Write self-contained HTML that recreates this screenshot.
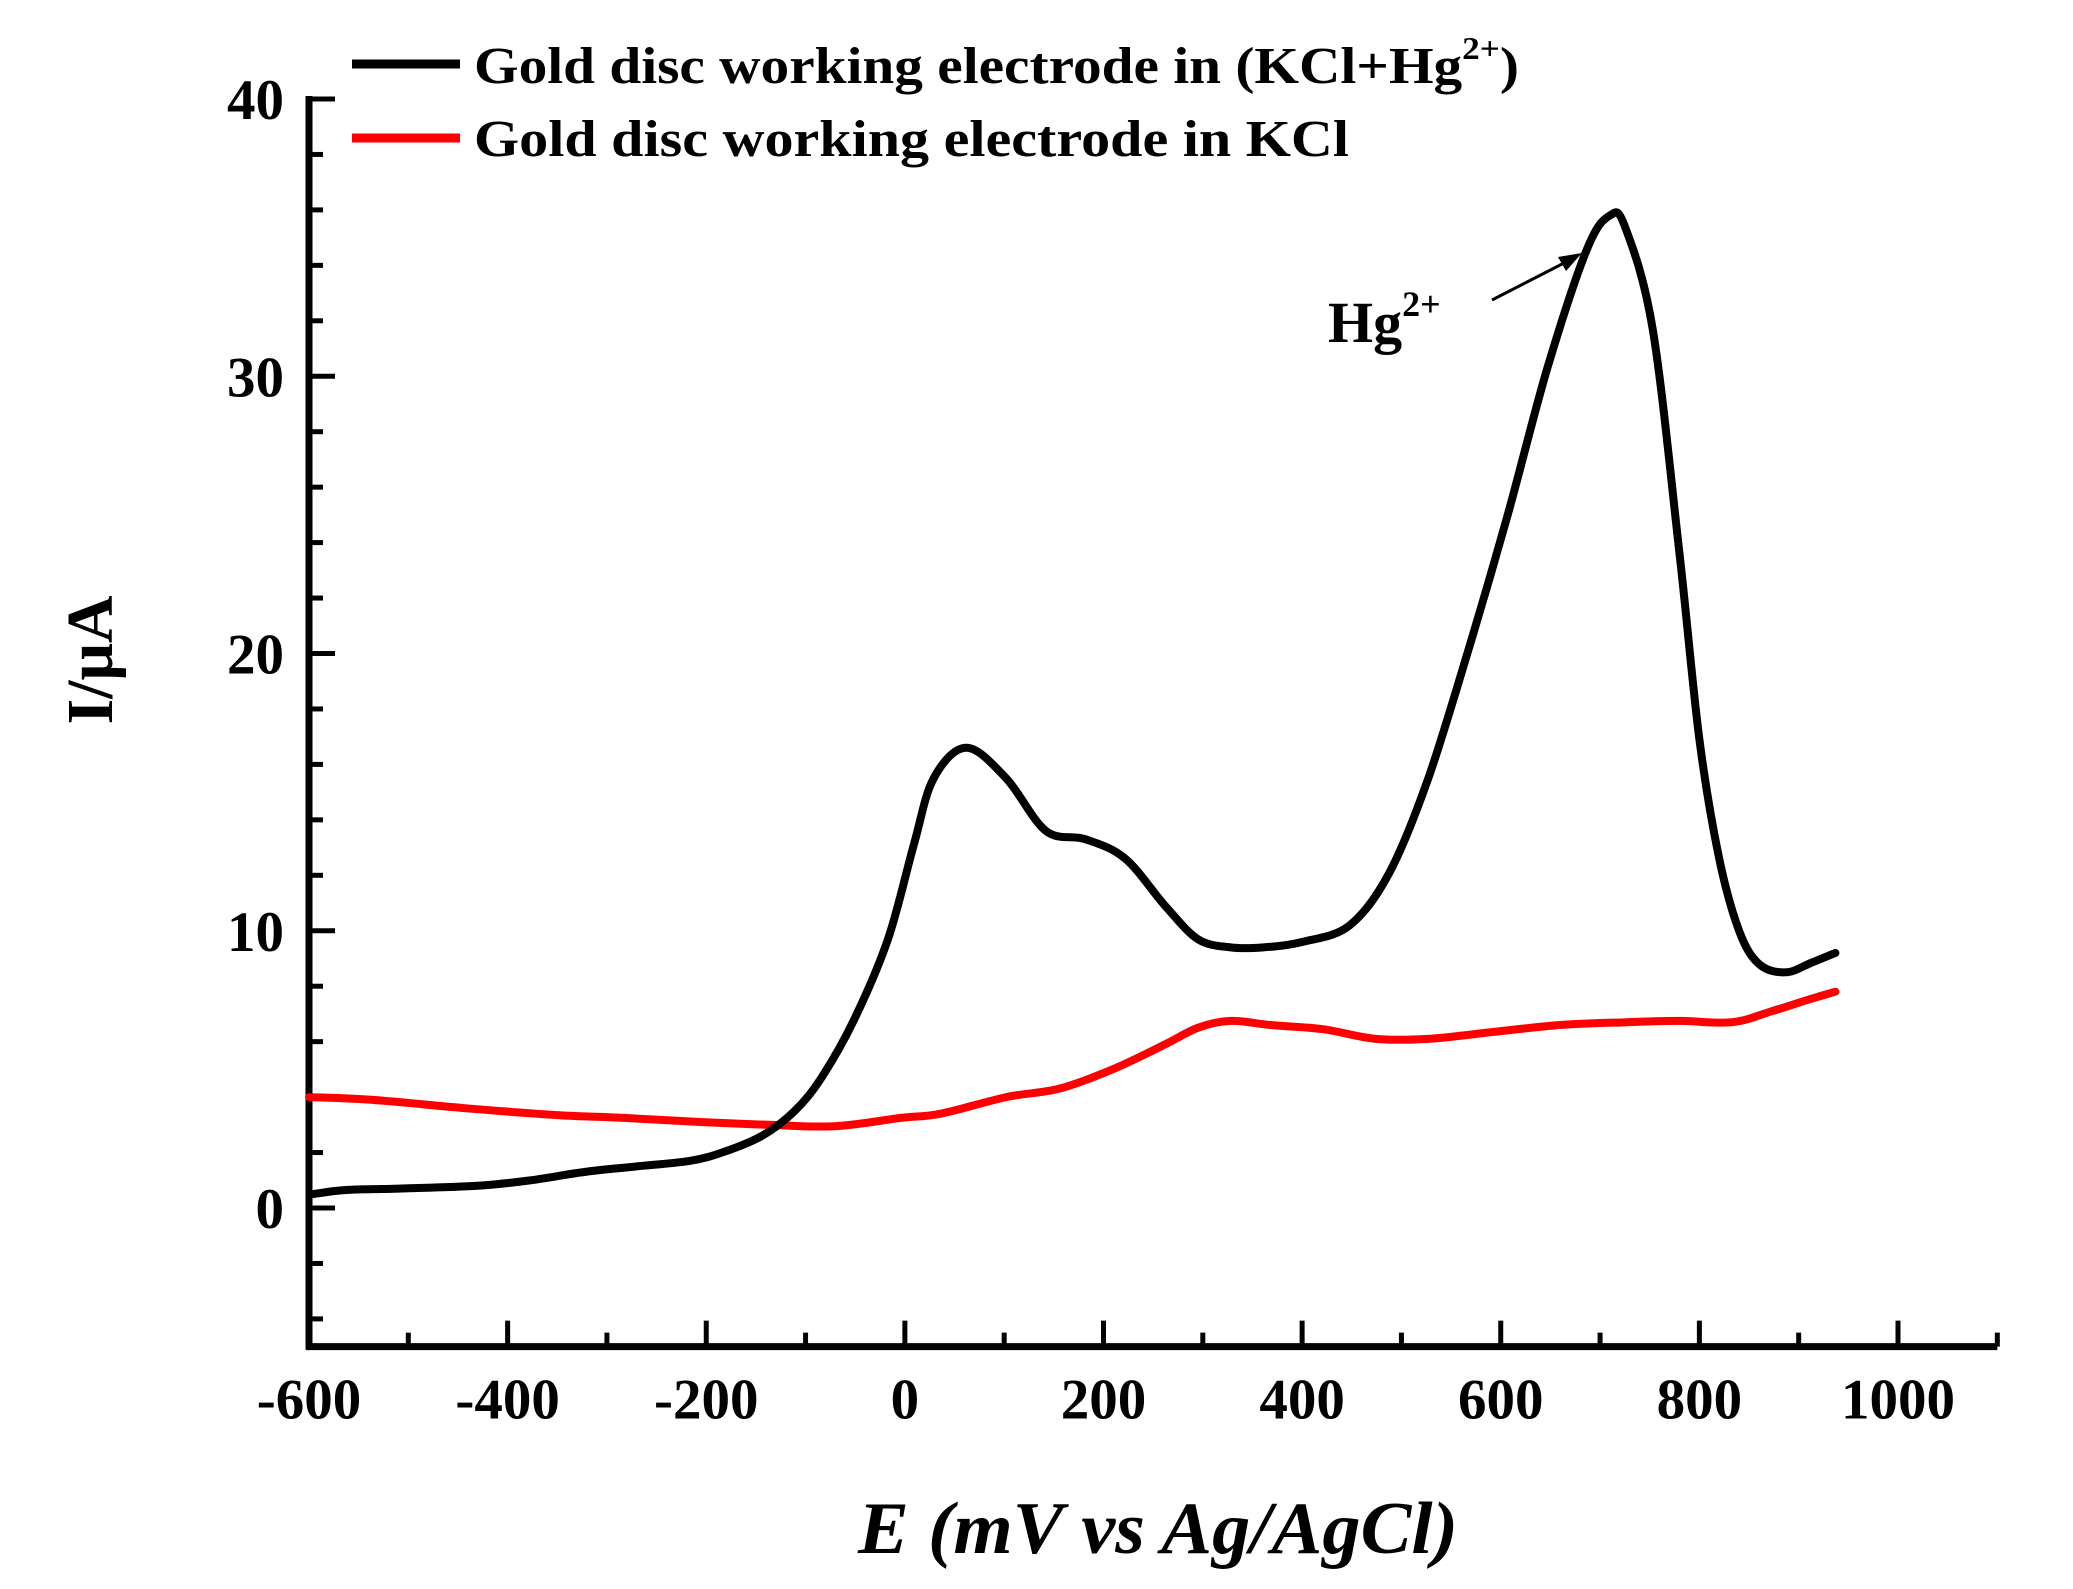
<!DOCTYPE html>
<html><head><meta charset="utf-8"><style>
html,body{margin:0;padding:0;background:#fff}
svg{display:block}
text{font-family:"Liberation Serif",serif;font-weight:bold;fill:#000}
</style></head><body>
<svg id="chart" width="2073" height="1589" viewBox="0 0 2073 1589" xmlns="http://www.w3.org/2000/svg">
<g id="axes"></g>
<g id="series"></g>
<g>
  <line x1="352" y1="64" x2="460" y2="64" stroke="#000" stroke-width="9"/>
  <text x="474" y="83" font-size="52" textLength="1045" lengthAdjust="spacingAndGlyphs">Gold disc working electrode in (KCl+Hg<tspan dy="-24" font-size="32">2+</tspan><tspan dy="24">)</tspan></text>
  <line x1="352" y1="138" x2="460" y2="138" stroke="#f00" stroke-width="9"/>
  <text x="474" y="156" font-size="52" textLength="875" lengthAdjust="spacingAndGlyphs">Gold disc working electrode in KCl</text>
</g>
<g>
  <text x="1328" y="342" font-size="58">Hg<tspan dy="-26" font-size="36">2+</tspan></text>
  <line x1="1492" y1="300" x2="1566" y2="262" stroke="#000" stroke-width="3"/>
  <polygon points="1582,253 1558,257 1566,271" fill="#000"/>
</g>
<text x="1158" y="1553" font-size="74" font-style="italic" text-anchor="middle" textLength="600" lengthAdjust="spacingAndGlyphs">E (mV vs Ag/AgCl)</text>
<text transform="translate(112,660) rotate(-90)" font-size="66" text-anchor="middle">I/μA</text>
</svg>
<script>
const xTicks = [-600,-400,-200,0,200,400,600,800,1000];
const yTicks = [0,10,20,30,40];
const blackX = [-596,-563,-510,-430,-377,-323,-270,-217,-184,-144,-111,-84,-51,-17,9,29,62,102,142,182,222,262,295,328,361,401,448,488,527,568,607,647,687,710,725,753,780,800,820,840,860,887,913,937];
const blackY = [0.5,0.65,0.7,0.8,1.0,1.3,1.5,1.7,2.0,2.6,3.5,4.7,6.8,9.7,13.1,15.5,16.6,15.5,13.6,13.3,12.6,10.9,9.7,9.4,9.4,9.6,10.2,12.1,15.5,20.2,25,30.3,34.6,35.8,35.4,31.7,23.6,16.9,12.6,10,8.8,8.5,8.85,9.2];
const redX = [-600,-536,-443,-350,-283,-204,-137,-71,-4,36,102,155,209,262,295,328,368,421,474,527,593,660,727,780,833,873,913,937];
const redY = [4.0,3.9,3.6,3.35,3.25,3.1,3.0,2.95,3.25,3.4,4.0,4.3,5.0,5.9,6.5,6.75,6.6,6.45,6.1,6.1,6.35,6.6,6.7,6.75,6.7,7.1,7.55,7.8];

const NS='http://www.w3.org/2000/svg';
const X0=309, Xpx=(1898-309)/1600, Y0=1208, Ypx=(1208-99)/40;
const sx=v=>X0+(v+600)*Xpx, sy=v=>Y0-v*Ypx;
const YB=sy(-5), XR=sx(1100);
const axes=document.getElementById('axes'), series=document.getElementById('series');
function mk(tag,attrs,parent){const e=document.createElementNS(NS,tag);for(const k in attrs)e.setAttribute(k,attrs[k]);parent.appendChild(e);return e;}

const xa=mk('line',{x1:X0-3,y1:YB,x2:XR,y2:YB,stroke:'#000','stroke-width':7},axes);


const ya=mk('line',{x1:X0,y1:sy(40)-3,x2:X0,y2:YB+3,stroke:'#000','stroke-width':7},axes);


for(let v=-600;v<=1100;v+=100){
  const major=v%200===0;
  const t=mk('line',{x1:sx(v),y1:YB,x2:sx(v),y2:YB-(major?26:14),stroke:'#000','stroke-width':5},axes);
  
  
}
for(let v=-4;v<=40;v+=2){
  const major=v%10===0;
  const t=mk('line',{x1:X0,y1:sy(v),x2:X0+(major?26:14),y2:sy(v),stroke:'#000','stroke-width':5},axes);
  
  
}
xTicks.forEach(v=>{
  const t=mk('text',{x:sx(v),y:YB+72,'font-size':57,'text-anchor':'middle'},axes);
  t.textContent=String(v);
  
  
});
yTicks.forEach(v=>{
  const t=mk('text',{x:284,y:sy(v)+20,'font-size':57,'text-anchor':'end'},axes);
  t.textContent=String(v);
  
  
});
function path(xs,ys,color,name){
  const P=xs.map((x,i)=>[sx(x),sy(ys[i])]);
  let d='M'+P[0][0].toFixed(1)+','+P[0][1].toFixed(1);
  for(let i=0;i<P.length-1;i++){
    const p0=P[Math.max(i-1,0)],p1=P[i],p2=P[i+1],p3=P[Math.min(i+2,P.length-1)];
    const c1=[p1[0]+(p2[0]-p0[0])/6,p1[1]+(p2[1]-p0[1])/6];
    const c2=[p2[0]-(p3[0]-p1[0])/6,p2[1]-(p3[1]-p1[1])/6];
    d+='C'+c1.map(v=>v.toFixed(1)).join(',')+' '+c2.map(v=>v.toFixed(1)).join(',')+' '+p2.map(v=>v.toFixed(1)).join(',');
  }
  const p=mk('path',{d:d,fill:'none',stroke:color,'stroke-width':8,'stroke-linejoin':'round','stroke-linecap':'round'},series);
  
  
}
path(redX,redY,'#f00','kcl-curve');
path(blackX,blackY,'#000','kcl-hg-curve');
</script>
</body></html>
